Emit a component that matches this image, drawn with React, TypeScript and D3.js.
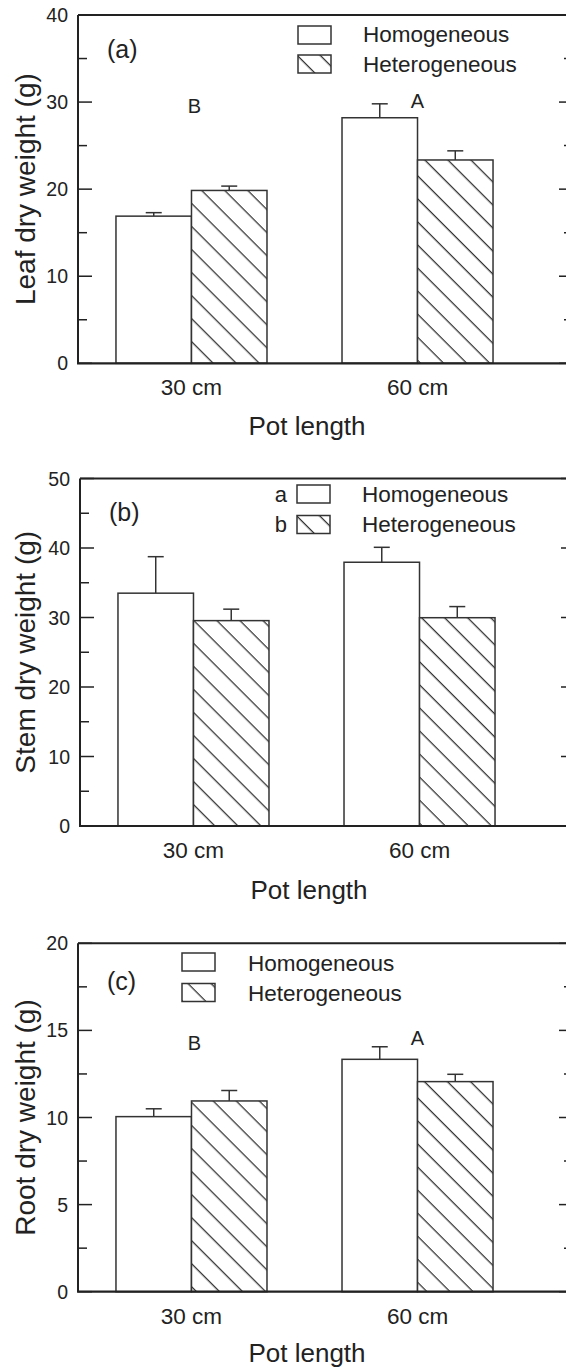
import React from "react";
import * as d3 from "d3";

// ---------- data ----------
const categories = ["30 cm", "60 cm"];
const seriesNames = ["Homogeneous", "Heterogeneous"];

const leafHomog = [16.9, 28.2];
const leafHetero = [19.85, 23.35];
const leafHomogErr = [0.4, 1.6];
const leafHeteroErr = [0.5, 1.05];
const leafTicks = [0, 10, 20, 30, 40];
const leafMinor = [5, 15, 25, 35];
const leafLetters = ["B", "A"];
const leafLetterY = [28.7, 29.3];

const stemHomog = [33.5, 37.95];
const stemHetero = [29.55, 29.97];
const stemHomogErr = [5.25, 2.15];
const stemHeteroErr = [1.65, 1.6];
const stemTicks = [0, 10, 20, 30, 40, 50];
const stemMinor = [5, 15, 25, 35, 45];
const stemLegendLetters = ["a", "b"];

const rootHomog = [10.05, 13.34];
const rootHetero = [10.95, 12.06];
const rootHomogErr = [0.45, 0.72];
const rootHeteroErr = [0.6, 0.42];
const rootTicks = [0, 5, 10, 15, 20];
const rootMinor = [2.5, 7.5, 12.5, 17.5];
const rootLetters = ["B", "A"];
const rootLetterY = [13.87, 14.16];

const FONT = "'Liberation Sans', Arial, Helvetica, sans-serif";
const INK = "#222";
const LINE = "#333";

type PanelProps = {
  left: number; right: number; top: number; bottom: number;
  yMax: number; ticks: number[]; minor: number[];
  homog: number[]; hetero: number[]; homogErr: number[]; heteroErr: number[];
  yTitle: string; panelLabel: string; labelY: number; titleDy: number;
  legendX: number; legendTextX: number; legendRectY: number[]; legendBase: number[];
  legendLetters?: string[];
  letters?: string[]; letterY?: number[];
};

function Panel(p: PanelProps) {
  const y = d3.scaleLinear().domain([0, p.yMax]).range([p.bottom, p.top]);
  const x0 = d3.scaleBand<string>().domain(categories)
    .range([p.left, p.left + 453]).paddingInner(0.3319).paddingOuter(0.168);
  const x1 = d3.scaleBand<string>().domain(seriesNames).range([0, x0.bandwidth()]);
  const vals = [p.homog, p.hetero];
  const errs = [p.homogErr, p.heteroErr];
  const cy = (p.top + p.bottom) / 2;
  const tickLabelX = p.left - 10;
  return (
    <g>
      {categories.map((c, ci) =>
        seriesNames.map((s, si) => {
          const bx = (x0(c) as number) + (x1(s) as number);
          const bw = x1.bandwidth();
          const v = vals[si][ci];
          const e = errs[si][ci];
          const cxm = bx + bw / 2;
          return (
            <g key={c + s}>
              <line x1={cxm} x2={cxm} y1={y(v)} y2={y(v + e)} stroke={LINE} strokeWidth={1.5} />
              <line x1={cxm - 8} x2={cxm + 8} y1={y(v + e)} y2={y(v + e)} stroke={LINE} strokeWidth={1.5} />
              <rect x={bx} y={y(v)} width={bw} height={y(0) - y(v)}
                fill={si === 0 ? "#fff" : "url(#hatch)"} stroke={LINE} strokeWidth={1.5} />
            </g>
          );
        })
      )}
      <line x1={p.left} x2={p.right} y1={p.top} y2={p.top} stroke={INK} strokeWidth={2} />
      <line x1={p.right} x2={p.right} y1={p.top} y2={p.bottom} stroke={INK} strokeWidth={2} />
      <line x1={p.left} x2={p.left} y1={p.top} y2={p.bottom} stroke={INK} strokeWidth={2} />
      <line x1={p.left - 1} x2={p.right} y1={p.bottom} y2={p.bottom} stroke={INK} strokeWidth={2.2} />
      {p.ticks.map((t) => (
        <g key={"t" + t}>
          <line x1={p.left} x2={p.left + 14} y1={y(t)} y2={y(t)} stroke={INK} strokeWidth={1.5} />
          <line x1={p.right} x2={p.right - 14} y1={y(t)} y2={y(t)} stroke={INK} strokeWidth={1.5} />
          <text x={tickLabelX} y={y(t)} textAnchor="end" dominantBaseline="central"
            fontFamily={FONT} fontSize={19.5} fill={INK}>{t}</text>
        </g>
      ))}
      {p.minor.map((t) => (
        <g key={"m" + t}>
          <line x1={p.left} x2={p.left + 9} y1={y(t)} y2={y(t)} stroke={INK} strokeWidth={1.5} />
          <line x1={p.right} x2={p.right - 9} y1={y(t)} y2={y(t)} stroke={INK} strokeWidth={1.5} />
        </g>
      ))}
      {categories.map((c) => (
        <text key={c} x={(x0(c) as number) + x0.bandwidth() / 2} y={p.bottom + 32}
          textAnchor="middle" fontFamily={FONT} fontSize={22.5} fill={INK}>{c}</text>
      ))}
      <text x={p.left + 229} y={p.bottom + p.titleDy} textAnchor="middle" fontFamily={FONT} fontSize={26} fill={INK}>Pot length</text>
      <text transform={`translate(35,${cy}) rotate(-90)`} textAnchor="middle" fontFamily={FONT} fontSize={28} fill={INK}>{p.yTitle}</text>
      <text x={p.left + 29} y={p.labelY} fontFamily={FONT} fontSize={25} fill={INK}>{p.panelLabel}</text>
      {p.letters && p.letters.map((l, i) => (
        <text key={"l" + i} x={(x0(categories[i]) as number) + x0.bandwidth() / 2 + (i === 0 ? 3 : 0)}
          y={y(p.letterY![i])} textAnchor="middle" fontFamily={FONT} fontSize={20} fill={INK}>{l}</text>
      ))}
      {seriesNames.map((s, i) => (
        <g key={"lg" + s}>
          <rect x={p.legendX} y={p.legendRectY[i]} width={33} height={18}
            fill={i === 0 ? "#fff" : "url(#hatch)"} stroke={LINE} strokeWidth={1.5} />
          <text x={p.legendTextX} y={p.legendBase[i]} fontFamily={FONT} fontSize={22.5} fill={INK}>{s}</text>
          {p.legendLetters && (
            <text x={p.legendX - 10} y={p.legendBase[i]} textAnchor="end" fontFamily={FONT} fontSize={22} fill={INK}>{p.legendLetters[i]}</text>
          )}
        </g>
      ))}
    </g>
  );
}

export default function App() {
  return (
    <svg width={566} height={1368} style={{ position: "absolute", left: 0, top: 0, background: "#fff" }}>
      <defs>
        <pattern id="hatch" patternUnits="userSpaceOnUse" width={16.3} height={16.3} patternTransform="rotate(-45)">
          <rect width={16.3} height={16.3} fill="#fff" />
          <line x1={8} x2={8} y1={0} y2={16.3} stroke={LINE} strokeWidth={1.3} />
        </pattern>
      </defs>
      <rect width={566} height={1368} fill="#fff" />
      <Panel left={78} right={573} top={15} bottom={363.3} yMax={40} ticks={leafTicks} minor={leafMinor}
        homog={leafHomog} hetero={leafHetero} homogErr={leafHomogErr} heteroErr={leafHeteroErr}
        yTitle="Leaf dry weight (g)" panelLabel="(a)" labelY={58} titleDy={72}
        legendX={298} legendTextX={363} legendRectY={[26, 55]} legendBase={[42, 72]}
        letters={leafLetters} letterY={leafLetterY} />
      <Panel left={80} right={575} top={478.5} bottom={826} yMax={50} ticks={stemTicks} minor={stemMinor}
        homog={stemHomog} hetero={stemHetero} homogErr={stemHomogErr} heteroErr={stemHeteroErr}
        yTitle="Stem dry weight (g)" panelLabel="(b)" labelY={521} titleDy={73}
        legendX={297} legendTextX={362} legendRectY={[485, 515.5]} legendBase={[502, 532]}
        legendLetters={stemLegendLetters} />
      <Panel left={78} right={573} top={943.3} bottom={1291.7} yMax={20} ticks={rootTicks} minor={rootMinor}
        homog={rootHomog} hetero={rootHetero} homogErr={rootHomogErr} heteroErr={rootHeteroErr}
        yTitle="Root dry weight (g)" panelLabel="(c)" labelY={990} titleDy={70}
        legendX={182} legendTextX={248} legendRectY={[953, 983.5]} legendBase={[971, 1001]}
        letters={rootLetters} letterY={rootLetterY} />
    </svg>
  );
}
